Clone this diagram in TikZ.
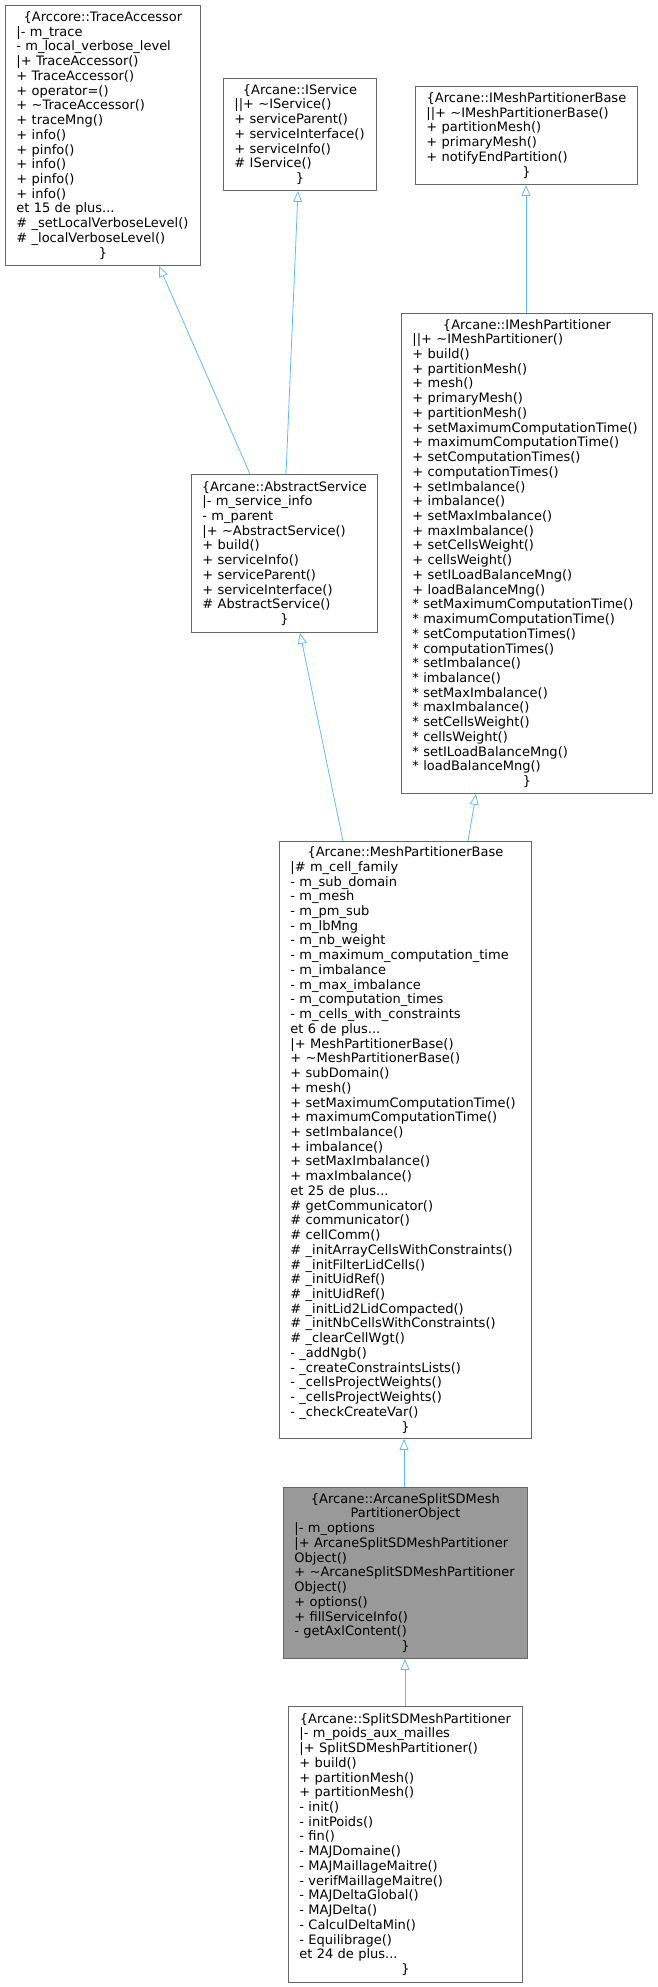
\documentclass[tikz,border=0pt]{standalone}
\usepackage{fontspec}
\setmainfont{DejaVu Sans}
\usetikzlibrary{arrows.meta}
\definecolor{edgeblue}{HTML}{63B8FF}
\definecolor{boxborder}{HTML}{666666}
\definecolor{boxfill}{HTML}{999999}
\newcommand{\ctr}[1]{\makebox[\hsize][c]{#1}}
\tikzset{
  cls/.style={draw=boxborder, line width=0.9pt, fill=white, anchor=north west,
    inner xsep=11pt, inner ysep=0pt, align=left,
    font=\fontsize{13}{14.73}\selectfont},
  inh/.style={draw=edgeblue, line width=0.8pt, -{Triangle[open,length=11pt,width=9pt]}}
}
\begin{document}
\begin{tikzpicture}[x=1pt,y=-1pt]
\useasboundingbox (0,0) rectangle (657,1987);

\node[cls, minimum width=195pt, minimum height=260pt, text width=173pt] (ta) at (5,5) {%
\ctr{\{Arccore::TraceAccessor}\\
|- m\_trace\\
- m\_local\_verbose\_level\\
|+ TraceAccessor()\\
+ TraceAccessor()\\
+ operator=()\\
+ \textasciitilde TraceAccessor()\\
+ traceMng()\\
+ info()\\
+ pinfo()\\
+ info()\\
+ pinfo()\\
+ info()\\
et 15 de plus...\\
\# \_setLocalVerboseLevel()\\
\# \_localVerboseLevel()\\
\ctr{\}}};

\node[cls, minimum width=153pt, minimum height=112pt, text width=131pt] (is) at (223,78) {%
\ctr{\{Arcane::IService}\\
||+ \textasciitilde IService()\\
+ serviceParent()\\
+ serviceInterface()\\
+ serviceInfo()\\
\# IService()\\
\ctr{\}}};

\node[cls, minimum width=222pt, minimum height=98pt, text width=200pt] (impb) at (415,86) {%
\ctr{\{Arcane::IMeshPartitionerBase}\\
||+ \textasciitilde IMeshPartitionerBase()\\
+ partitionMesh()\\
+ primaryMesh()\\
+ notifyEndPartition()\\
\ctr{\}}};

\node[cls, minimum width=251pt, minimum height=480pt, text width=229pt] (imp) at (401,313) {%
\ctr{\{Arcane::IMeshPartitioner}\\
||+ \textasciitilde IMeshPartitioner()\\
+ build()\\
+ partitionMesh()\\
+ mesh()\\
+ primaryMesh()\\
+ partitionMesh()\\
+ setMaximumComputationTime()\\
+ maximumComputationTime()\\
+ setComputationTimes()\\
+ computationTimes()\\
+ setImbalance()\\
+ imbalance()\\
+ setMaxImbalance()\\
+ maxImbalance()\\
+ setCellsWeight()\\
+ cellsWeight()\\
+ setILoadBalanceMng()\\
+ loadBalanceMng()\\
{*} setMaximumComputationTime()\\
{*} maximumComputationTime()\\
{*} setComputationTimes()\\
{*} computationTimes()\\
{*} setImbalance()\\
{*} imbalance()\\
{*} setMaxImbalance()\\
{*} maxImbalance()\\
{*} setCellsWeight()\\
{*} cellsWeight()\\
{*} setILoadBalanceMng()\\
{*} loadBalanceMng()\\
\ctr{\}}};

\node[cls, minimum width=186pt, minimum height=158pt, text width=164pt] (as) at (191,474) {%
\ctr{\{Arcane::AbstractService}\\
|- m\_service\_info\\
- m\_parent\\
|+ \textasciitilde AbstractService()\\
+ build()\\
+ serviceInfo()\\
+ serviceParent()\\
+ serviceInterface()\\
\# AbstractService()\\
\ctr{\}}};

\node[cls, minimum width=252pt, minimum height=597pt, text width=230pt] (mpb) at (279,841) {%
\ctr{\{Arcane::MeshPartitionerBase}\\
|\# m\_cell\_family\\
- m\_sub\_domain\\
- m\_mesh\\
- m\_pm\_sub\\
- m\_lbMng\\
- m\_nb\_weight\\
- m\_maximum\_computation\_time\\
- m\_imbalance\\
- m\_max\_imbalance\\
- m\_computation\_times\\
- m\_cells\_with\_constraints\\
et 6 de plus...\\
|+ MeshPartitionerBase()\\
+ \textasciitilde MeshPartitionerBase()\\
+ subDomain()\\
+ mesh()\\
+ setMaximumComputationTime()\\
+ maximumComputationTime()\\
+ setImbalance()\\
+ imbalance()\\
+ setMaxImbalance()\\
+ maxImbalance()\\
et 25 de plus...\\
\# getCommunicator()\\
\# communicator()\\
\# cellComm()\\
\# \_initArrayCellsWithConstraints()\\
\# \_initFilterLidCells()\\
\# \_initUidRef()\\
\# \_initUidRef()\\
\# \_initLid2LidCompacted()\\
\# \_initNbCellsWithConstraints()\\
\# \_clearCellWgt()\\
- \_addNgb()\\
- \_createConstraintsLists()\\
- \_cellsProjectWeights()\\
- \_cellsProjectWeights()\\
- \_checkCreateVar()\\
\ctr{\}}};

\node[cls, fill=boxfill, minimum width=244pt, minimum height=171pt, text width=222pt] (assd) at (283,1487) {%
\ctr{\{Arcane::ArcaneSplitSDMesh}\\
\ctr{PartitionerObject}\\
|- m\_options\\
|+ ArcaneSplitSDMeshPartitioner\\
Object()\\
+ \textasciitilde ArcaneSplitSDMeshPartitioner\\
Object()\\
+ options()\\
+ fillServiceInfo()\\
- getAxlContent()\\
\ctr{\}}};

\node[cls, minimum width=234pt, minimum height=276pt, text width=212pt] (ssd) at (288,1706) {%
\ctr{\{Arcane::SplitSDMeshPartitioner}\\
|- m\_poids\_aux\_mailles\\
|+ SplitSDMeshPartitioner()\\
+ build()\\
+ partitionMesh()\\
+ partitionMesh()\\
- init()\\
- initPoids()\\
- fin()\\
- MAJDomaine()\\
- MAJMaillageMaitre()\\
- verifMaillageMaitre()\\
- MAJDeltaGlobal()\\
- MAJDelta()\\
- CalculDeltaMin()\\
- Equilibrage()\\
et 24 de plus...\\
\ctr{\}}};

\draw[inh] ([xshift=59pt]as.north west) -- ([xshift=154pt]ta.south west);
\draw[inh] ([xshift=95pt]as.north west) -- ([xshift=75pt]is.south west);
\draw[inh] ([xshift=125pt]imp.north west) -- ([xshift=111pt]impb.south west);
\draw[inh] ([xshift=64pt]mpb.north west) -- ([xshift=109pt]as.south west);
\draw[inh] ([xshift=189pt]mpb.north west) -- ([xshift=75pt]imp.south west);
\draw[inh] ([xshift=121pt]assd.north west) -- ([xshift=125pt]mpb.south west);
\draw[inh] ([xshift=117pt]ssd.north west) -- ([xshift=122pt]assd.south west);
\end{tikzpicture}
\end{document}
